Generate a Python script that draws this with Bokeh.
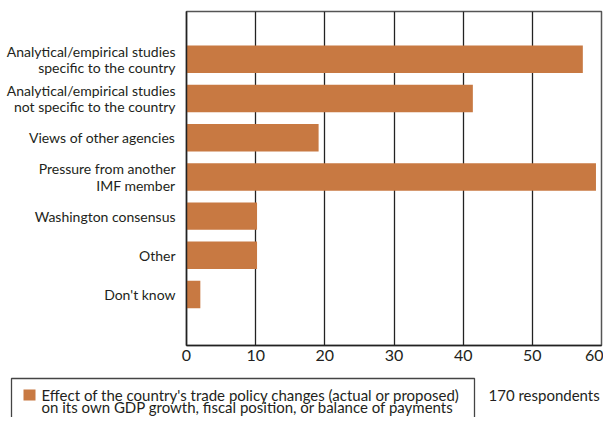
from bokeh.plotting import figure
from bokeh.models import Range1d, FixedTicker, ColumnDataSource
from bokeh.layouts import column
from bokeh.core.properties import value
from bokeh.embed import file_html
from bokeh.resources import INLINE

categories = [
    "Analytical/empirical studies\nspecific to the country",
    "Analytical/empirical studies\nnot specific to the country",
    "Views of other agencies",
    "Pressure from another\nIMF member",
    "Washington consensus",
    "Other",
    "Don't know",
]
values = [57.3, 41.4, 19.1, 59.2, 10.2, 10.2, 2.0]
x_ticks = [0, 10, 20, 30, 40, 50, 60]
legend_lines = [
    "Effect of the country's trade policy changes (actual or proposed)",
    "on its own GDP growth, fiscal position, or balance of payments",
]
note = "170 respondents"

FONT = "Lato"
BAR = "#C87942"
TXT = "#231F20"

n = len(categories)
ypos = [n - 1 - i for i in range(n)]
src = ColumnDataSource(dict(y=ypos, v=values))

p = figure(width=603, height=371, x_range=Range1d(0, 60), y_range=Range1d(-1.3, 7.22),
           output_backend="svg", toolbar_location=None,
           min_border_left=186, min_border_right=2, min_border_top=11, min_border_bottom=26)
p.hbar(y="y", left=0, right="v", height=0.7, source=src, fill_color=BAR, line_color=None)

p.xaxis.ticker = FixedTicker(ticks=x_ticks)
p.xaxis.major_tick_out = 0
p.xaxis.major_tick_in = 0
p.xaxis.minor_tick_line_color = None
p.xaxis.axis_line_color = "#222"
p.xaxis.axis_line_width = 1.5
p.xaxis.major_label_text_font = FONT
p.xaxis.major_label_text_font_size = "16px"
p.xaxis.major_label_text_color = TXT
p.xaxis.major_label_standoff = 4

p.yaxis.ticker = FixedTicker(ticks=ypos)
p.yaxis.major_label_overrides = {ypos[i]: categories[i] for i in range(n)}
p.yaxis.major_tick_out = 0
p.yaxis.major_tick_in = 0
p.yaxis.minor_tick_line_color = None
p.yaxis.axis_line_color = "#222"
p.yaxis.axis_line_width = 1.5
p.yaxis.major_label_text_font = FONT
p.yaxis.major_label_text_font_size = "14px"
p.yaxis.major_label_text_line_height = 0.95
p.yaxis.major_label_text_color = TXT
p.yaxis.major_label_standoff = 11

p.xgrid.grid_line_color = "#222"
p.xgrid.grid_line_width = 1.3
p.ygrid.visible = False
p.outline_line_color = "#555"
p.outline_line_width = 1.5

# legend strip (its own figure, coordinates in pixels of the strip)
lg = figure(width=603, height=46, x_range=Range1d(0, 603), y_range=Range1d(0, 46),
            output_backend="svg", toolbar_location=None,
            x_axis_location=None, y_axis_location=None,
            min_border_left=0, min_border_right=0, min_border_top=0, min_border_bottom=0)
lg.grid.visible = False
lg.outline_line_color = None
lg.quad(left=[11], right=[474], top=[39], bottom=[-10], fill_color=None,
        line_color="#444", line_width=1.3)
lg.quad(left=[23], right=[35], top=[28], bottom=[17], fill_color=BAR, line_color=None)
lg.text(x=[41, 41], y=[23, 11], text=legend_lines, text_font=value(FONT),
        text_font_size="15px", text_color=TXT, text_baseline="middle", text_align="left")
lg.text(x=[488], y=[23], text=[note], text_font=value(FONT),
        text_font_size="15px", text_color=TXT, text_baseline="middle", text_align="left")

for fig in (p, lg):
    try:
        fig.frame_align = False
    except Exception:
        pass

layout = column(p, lg, spacing=0)
open("out.html", "w").write(file_html(layout, INLINE))
